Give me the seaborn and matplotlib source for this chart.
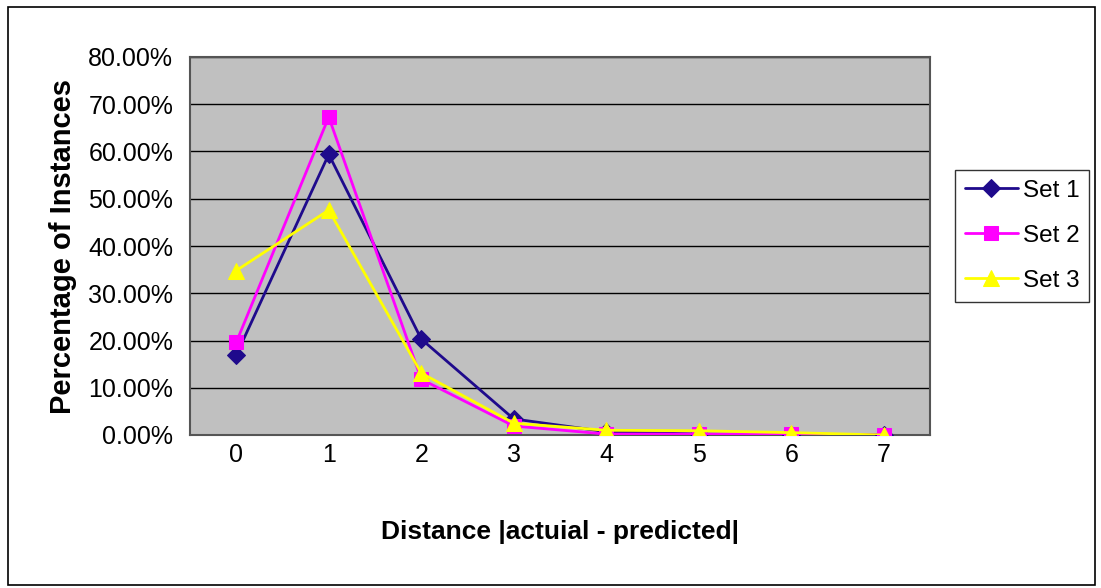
#!/usr/bin/env python3
# -*- coding: utf-8 -*-

import numpy as np
import pandas as pd
import matplotlib
matplotlib.use("Agg")
import matplotlib.pyplot as plt
from matplotlib.patches import Rectangle
from matplotlib.ticker import FuncFormatter, FixedLocator
import seaborn as sns

sns.set_style("white")
plt.rcParams['font.family'] = ['Liberation Sans', 'DejaVu Sans']
plt.rcParams['text.color'] = 'black'
plt.rcParams['axes.labelcolor'] = 'black'
plt.rcParams['xtick.color'] = 'black'
plt.rcParams['ytick.color'] = 'black'

# data
distance = [0, 1, 2, 3, 4, 5, 6, 7]
set1 = [16.9, 59.4, 20.3, 3.4, 0.7, 0.2, 0.1, 0.0]
set2 = [19.6, 67.3, 11.8, 1.9, 0.2, 0.2, 0.2, 0.0]
set3 = [34.8, 47.6, 13.1, 2.5, 1.0, 0.9, 0.5, 0.0]
series_names = ['Set 1', 'Set 2', 'Set 3']
colors = ['#1F0A8C', '#FF00FF', '#FFFF00']
markers = ['D', 's', '^']
msizes = [9.5, 9.5, 12]

df = pd.DataFrame({'distance': distance * 3,
                   'value': set1 + set2 + set3,
                   'set': sum([[n] * len(distance) for n in series_names], [])})

fig = plt.figure(figsize=(11.01, 5.88), dpi=100)
ax = fig.add_axes([190 / 1101, 1 - 435 / 588, 740 / 1101, 378 / 588])
ax.set_facecolor('#C0C0C0')

for name, c, m, ms in zip(series_names, colors, markers, msizes):
    sub = df[df['set'] == name]
    sns.lineplot(data=sub, x='distance', y='value', ax=ax, color=c,
                 marker=m, markersize=ms, markeredgecolor=c, linewidth=2,
                 label=name, zorder=3)

ax.set_xlim(-0.5, 7.5)
ax.set_ylim(0, 80)
ax.set_yticks(np.arange(0, 81, 10))
ax.yaxis.set_major_formatter(FuncFormatter(lambda v, p: f'{v:.2f}%'))
ax.set_xticks(distance)
ax.xaxis.set_minor_locator(FixedLocator(np.arange(-0.5, 7.6, 1)))
ax.tick_params(axis='x', which='major', length=0, labelsize=18, pad=6)
ax.tick_params(axis='x', which='minor', length=6, width=1, color='black',
               direction='out')
ax.tick_params(axis='y', which='major', length=6, width=1, color='black',
               direction='out', labelsize=18, pad=6)
ax.grid(axis='y', color='black', linewidth=1)
ax.set_axisbelow(True)
for s in ax.spines.values():
    s.set_color('#555555')
    s.set_linewidth(1.5)

ax.set_xlabel('Distance |actuial - predicted|', fontsize=19,
              fontweight='bold', labelpad=38)
ax.set_ylabel('Percentage of Instances', fontsize=21, fontweight='bold',
              labelpad=8)

leg = ax.legend(loc='upper left', bbox_to_anchor=((955 - 190) / 740, (435 - 170) / 378),
                fontsize=17.5, frameon=True, fancybox=False, edgecolor='black',
                handlelength=2.2, borderpad=0.4, labelspacing=0.95,
                handletextpad=0.2, borderaxespad=0)
leg.get_frame().set_linewidth(1)

# outer chart frame
fig.patches.append(Rectangle((8 / 1101, 3 / 588), 1087 / 1101, 578 / 588,
                             transform=fig.transFigure, fill=False,
                             edgecolor='black', linewidth=1.2))

fig.savefig('out.png', dpi=100)
